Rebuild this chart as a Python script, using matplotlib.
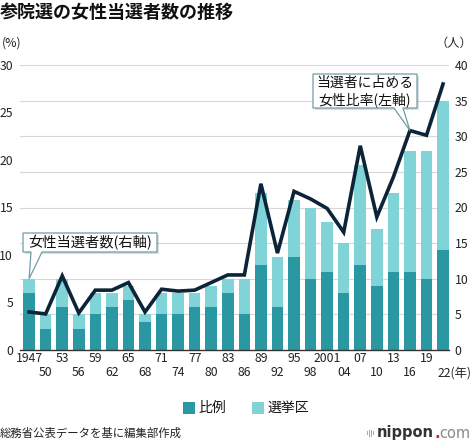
import matplotlib
matplotlib.use("Agg")
import matplotlib.pyplot as plt
import matplotlib.transforms as mtransforms
from matplotlib.patches import Polygon, Rectangle
import numpy as np

plt.rcParams['font.family'] = ['Noto Sans CJK JP', 'DejaVu Sans']

years = ["1947", "50", "53", "56", "59", "62", "65", "68", "71", "74", "77", "80", "83",
         "86", "89", "92", "95", "98", "2001", "04", "07", "10", "13", "16", "19", "22(年)"]
hirei = [8, 3, 6, 3, 5, 6, 7, 4, 5, 5, 6, 6, 8, 5, 12, 6, 13, 10, 11, 8, 12, 9, 11, 11, 10, 14]
total = [10, 5, 10, 5, 8, 8, 9, 5, 8, 8, 8, 9, 10, 10, 22, 13, 21, 20, 18, 15, 26, 17, 22, 28, 28, 35]
senkyoku = [t - h for t, h in zip(total, hirei)]
ratio = [4.0, 3.8, 7.8, 3.9, 6.3, 6.3, 7.1, 4.0, 6.4, 6.2, 6.3, 7.1, 7.9, 7.9, 17.5, 10.2,
         16.7, 15.9, 14.9, 12.4, 21.5, 14.0, 18.2, 23.1, 22.6, 28.0]

DARK = "#2a98a3"
LIGHT = "#80d4d7"
LINE = "#0c2439"

W, H = 474, 445
fig = plt.figure(figsize=(W / 100, H / 100), dpi=100)
fig.patch.set_facecolor("white")
px = mtransforms.Affine2D().scale(1 / W, -1 / H).translate(0, 1) + fig.transFigure

ax = fig.add_axes([20 / W, (H - 350) / H, (449 - 20) / W, (350 - 65) / H])
x = np.arange(len(years))
ax.bar(x, hirei, width=0.7, color=DARK, zorder=2)
ax.bar(x, senkyoku, width=0.7, bottom=hirei, color=LIGHT, zorder=2)
ax.set_ylim(0, 40)
ax.set_xlim(-0.55, len(years) - 1 + 0.36)
ax.set_yticks(range(0, 41, 5))
ax.set_xticks([])
ax.grid(axis='y', color="#d8d8d8", lw=0.8, zorder=0)
for s in ["top", "left", "right"]:
    ax.spines[s].set_visible(False)
ax.spines["bottom"].set_color("#333")
ax.spines["bottom"].set_linewidth(1.0)
ax.spines["bottom"].set_zorder(5)

ax2 = ax.twinx()
ax2.plot(x, ratio, color=LINE, lw=2.6, solid_joinstyle='miter', zorder=4)
ax2.set_ylim(0, 30)
ax2.set_yticks(range(0, 31, 5))
for s in ["top", "left", "right", "bottom"]:
    ax2.spines[s].set_visible(False)

ax.yaxis.set_ticks_position('right')
ax.yaxis.set_label_position('right')
ax2.yaxis.set_ticks_position('left')
ax2.yaxis.set_label_position('left')
ax.tick_params(axis='y', which='both', left=False, labelleft=False, right=False, labelright=True,
               length=0, pad=4, labelsize=8.8, colors="#222")
ax2.tick_params(axis='y', which='both', right=False, labelright=False, left=False, labelleft=True,
                length=0, pad=5, labelsize=8.8, colors="#222")

trans = mtransforms.blended_transform_factory(ax.transData, px)
for i, y in enumerate(years):
    yy = 358 if i % 2 == 0 else 373
    if y.endswith("(年)"):
        ax.text(i - 0.35, yy, y, transform=trans, ha='left', va='center', fontsize=8.8, color="#222")
    else:
        ax.text(i, yy, y, transform=trans, ha='center', va='center', fontsize=8.8, color="#222")

fig.text(0 / W, 1 - 12 / H, "参院選の女性当選者数の推移", fontsize=13, fontweight='bold', va='center', ha='left', color="#111")
fig.text(2 / W, 1 - 43 / H, "(%)", fontsize=8.8, va='center', ha='left', color="#222")
fig.text(472 / W, 1 - 43 / H, "（人）", fontsize=8.8, va='center', ha='right', color="#222")


def callout(box, tail, tip_data, axis, lines, fs):
    x0, y0, x1, y1 = box
    tip = axis.transData.transform(tip_data)
    tipx = tip[0]
    tipy = H - tip[1]
    fig.patches.append(Rectangle((x0 + 2, y1 + 2), x1 - x0, y0 - y1, transform=px,
                                 fc="#00000022", ec='none', zorder=6))
    poly = [(x0, y0), (x1, y0), (x1, y1), (tail[1], y1), (tipx, tipy), (tail[0], y1), (x0, y1)]
    fig.patches.append(Polygon(poly, closed=True, transform=px, fc="white", ec="#6f9ea3",
                               lw=0.9, zorder=7, joinstyle='miter'))
    n = len(lines)
    hgt = (y1 - y0) / n
    for k, t in enumerate(lines):
        fig.text(((x0 + x1) / 2) / W, 1 - (y0 + hgt * (k + 0.5)) / H, t, fontsize=fs,
                 ha='center', va='center', color="#111", zorder=8)


callout((23, 233, 157, 252), (31, 42), (0, total[0]), ax, ["女性当選者数(右軸)"], 10.3)
callout((313, 74, 417, 108), (394, 403), (23, ratio[23]), ax2, ["当選者に占める", "女性比率(左軸)"], 10)

fig.patches.append(Rectangle((183, 402), 12, 12, transform=px, fc=DARK, ec='none'))
fig.text(198 / W, 1 - 408 / H, "比例", fontsize=10, va='center', ha='left', color="#111")
fig.patches.append(Rectangle((252, 402), 12, 12, transform=px, fc=LIGHT, ec='none'))
fig.text(267 / W, 1 - 408 / H, "選挙区", fontsize=10, va='center', ha='left', color="#111")

fig.text(0 / W, 1 - 433 / H, "総務省公表データを基に編集部作成", fontsize=8.2, va='center', ha='left', color="#222")
for dx, hh in [(0, 4), (2, 7), (4, 7), (6, 4)]:
    fig.patches.append(Rectangle((367 + dx, 433 - hh / 2), 1, hh, transform=px, fc="#aaa", ec='none'))
t1 = fig.text(377 / W, 1 - 433 / H, "nippon", fontsize=10.5, va='center', ha='left', color="#333",
              fontweight='bold', family='DejaVu Sans')
fig.canvas.draw()
r = fig.canvas.get_renderer()
bb = t1.get_window_extent(renderer=r)
t2 = fig.text(bb.x1 / W, 1 - 433 / H, ".", fontsize=10.5, va='center', ha='left', color="#d22",
              fontweight='bold', family='DejaVu Sans')
bb2 = t2.get_window_extent(renderer=r)
fig.text(bb2.x1 / W, 1 - 433 / H, "com", fontsize=10.5, va='center', ha='left', color="#888",
         family='DejaVu Sans')

fig.savefig("out.png", dpi=100, facecolor="white")
